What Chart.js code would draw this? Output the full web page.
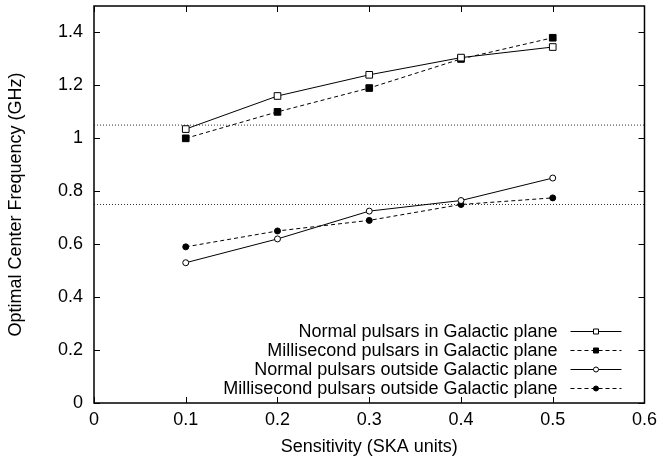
<!DOCTYPE html>
<html>
<head>
<meta charset="utf-8">
<script src="https://cdn.jsdelivr.net/npm/chart.js@4.4.0/dist/chart.umd.min.js"></script>
<style>
  html, body { margin: 0; padding: 0; background: #fff; }
  #wrap { width: 663px; height: 461px; }
</style>
</head>
<body>
<div id="wrap"><canvas id="freqChart"></canvas></div>
<script>
const sensitivity = [0.1, 0.2, 0.3, 0.4, 0.5];
const normalInPlane = [1.035, 1.16, 1.24, 1.305, 1.345];
const msInPlane = [1.0, 1.1, 1.19, 1.30, 1.38];
const normalOutside = [0.53, 0.62, 0.725, 0.765, 0.85];
const msOutside = [0.59, 0.65, 0.69, 0.75, 0.775];
const refLevels = [1.05, 0.75];
const xTicks = [0, 0.1, 0.2, 0.3, 0.4, 0.5, 0.6];
const yTicks = [0, 0.2, 0.4, 0.6, 0.8, 1, 1.2, 1.4];

Chart.defaults.font.family = '"Liberation Sans", Arial, sans-serif';
Chart.defaults.font.size = 18;
Chart.defaults.color = '#000';

function pts(ys) {
    return sensitivity.map((x, i) => ({x: x, y: ys[i]}));
}

function series(label, ys, style, filled, dashed) {
    return {
        label: label,
        data: pts(ys),
        borderColor: '#000',
        borderWidth: 1,
        borderDash: dashed ? [4, 3] : [],
        pointStyle: style,
        pointRadius: style === 'rect' ? 4.7 : 3,
        pointBorderWidth: 1,
        pointBorderColor: '#000',
        pointBackgroundColor: filled ? '#000' : '#fff',
        fill: false,
        tension: 0
    };
}

const refSets = refLevels.map(v => ({
    data: [{x: xTicks[0], y: v}, {x: xTicks[xTicks.length - 1], y: v}],
    borderColor: '#333',
    borderWidth: 1,
    borderDash: [1, 2],
    pointRadius: 0,
    fill: false
}));

// gnuplot style frame with inward ticks on all four sides
const frame = {
    id: 'frame',
    afterDraw(chart) {
        const {ctx, chartArea: a, scales} = chart;
        ctx.save();
        ctx.strokeStyle = '#000';
        ctx.lineWidth = 1;
        ctx.beginPath();
        xTicks.forEach(v => {
            const x = Math.round(scales.x.getPixelForValue(v)) + 0.5;
            ctx.moveTo(x, a.bottom); ctx.lineTo(x, a.bottom - 6);
            ctx.moveTo(x, a.top); ctx.lineTo(x, a.top + 6);
        });
        yTicks.forEach(v => {
            const y = Math.round(scales.y.getPixelForValue(v)) + 0.5;
            ctx.moveTo(a.left, y); ctx.lineTo(a.left + 6, y);
            ctx.moveTo(a.right, y); ctx.lineTo(a.right - 6, y);
        });
        ctx.stroke();
        ctx.lineWidth = 1.5;
        ctx.strokeRect(a.left, a.top, a.right - a.left, a.bottom - a.top);
        ctx.restore();
    }
};

// legend at lower right: text first, sample line after it
const gnuLegend = {
    id: 'gnuLegend',
    afterDatasetsDraw(chart) {
        const {ctx, chartArea: a} = chart;
        const items = chart.data.datasets.filter(d => d.label);
        const rowH = 19.2;
        ctx.save();
        ctx.font = '18px "Liberation Sans", Arial, sans-serif';
        ctx.textAlign = 'right';
        ctx.textBaseline = 'middle';
        items.forEach((d, i) => {
            const y = a.bottom - 14.7 - (items.length - 1 - i) * rowH;
            ctx.fillStyle = '#000';
            ctx.fillText(d.label, a.right - 87, y + 1);
            ctx.strokeStyle = '#000';
            ctx.lineWidth = 1;
            ctx.setLineDash(d.borderDash);
            ctx.beginPath();
            ctx.moveTo(a.right - 74, Math.round(y) + 0.5);
            ctx.lineTo(a.right - 23, Math.round(y) + 0.5);
            ctx.stroke();
            ctx.setLineDash([]);
            const mx = a.right - 48.5;
            ctx.fillStyle = d.pointBackgroundColor;
            ctx.beginPath();
            if (d.pointStyle === 'rect') {
                ctx.rect(mx - 2.5, Math.round(y) - 2, 5, 5);
            } else {
                ctx.arc(mx, Math.round(y) + 0.5, 2.5, 0, Math.PI * 2);
            }
            ctx.fill();
            ctx.stroke();
        });
        ctx.restore();
    }
};

new Chart(document.getElementById('freqChart'), {
    type: 'line',
    data: {
        datasets: [
            series('Normal pulsars in Galactic plane', normalInPlane, 'rect', false, false),
            series('Millisecond pulsars in Galactic plane', msInPlane, 'rect', true, true),
            series('Normal pulsars outside Galactic plane', normalOutside, 'circle', false, false),
            series('Millisecond pulsars outside Galactic plane', msOutside, 'circle', true, true)
        ].concat(refSets)
    },
    options: {
        responsive: true,
        maintainAspectRatio: false,
        animation: false,
        layout: {padding: {left: 0, right: 18, top: 6, bottom: 0}},
        plugins: {
            legend: {display: false},
            tooltip: {enabled: false}
        },
        scales: {
            x: {
                type: 'linear',
                min: xTicks[0],
                max: xTicks[xTicks.length - 1],
                afterBuildTicks: s => { s.ticks = xTicks.map(v => ({value: v})); },
                afterFit: s => { s.height = 58; },
                grid: {display: false, drawTicks: false},
                border: {display: false},
                ticks: {padding: 6, maxRotation: 0, callback: v => String(v)},
                title: {display: true, text: 'Sensitivity (SKA units)', padding: {top: 0, bottom: 3}}
            },
            y: {
                min: 0,
                max: 1.5,
                afterBuildTicks: s => { s.ticks = yTicks.map(v => ({value: v})); },
                afterFit: s => { s.width = 94; s.paddingTop = 0; s.paddingBottom = 0; },
                grid: {display: false, drawTicks: false},
                border: {display: false},
                ticks: {padding: 11, callback: v => String(v)},
                title: {display: true, text: 'Optimal Center Frequency (GHz)', padding: {top: 5, bottom: 0}}
            }
        }
    },
    plugins: [frame, gnuLegend]
});
</script>
</body>
</html>
